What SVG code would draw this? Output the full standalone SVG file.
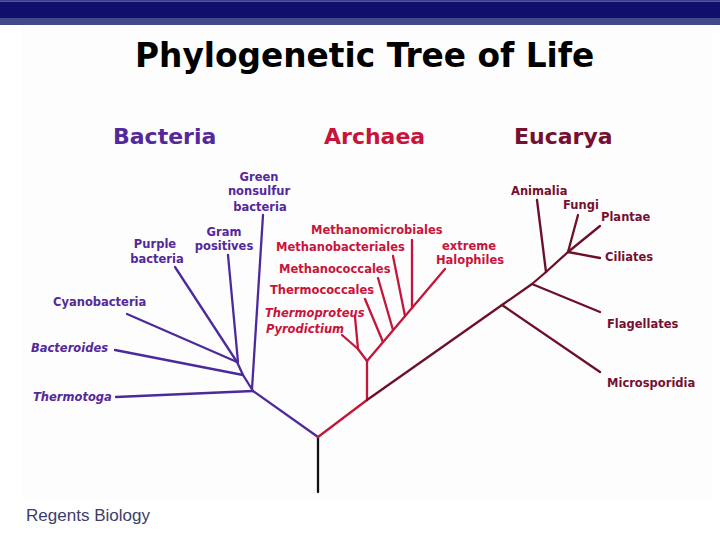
<svg xmlns="http://www.w3.org/2000/svg" width="720" height="540" viewBox="0 0 720 540">
<style>
text{font-family:"DejaVu Sans","Noto Sans",sans-serif;font-weight:bold}
.t{font-size:32.8px;fill:#000}
.h{font-size:22px}
.l{font-size:11.5px}
.i{font-style:italic}
.b{fill:#55289a}
.a{fill:#c8143a}
.e{fill:#761030}
.c{text-anchor:middle}
.lb{stroke:#4d2a9c}
.la{stroke:#c4153a}
.le{stroke:#6e0f28}
.lk{stroke:#111}
#connectors polyline,#connectors line{fill:none;stroke-width:2.3;stroke-linecap:round;stroke-linejoin:round}
</style>
<rect width="720" height="540" fill="#ffffff"/>
<rect x="0" y="0" width="720" height="1.5" fill="#3c3c8c"/>
<rect x="0" y="1.5" width="720" height="16.5" fill="#10106a"/>
<rect x="0" y="18" width="720" height="7" fill="#434a8a"/>
<rect x="22" y="25" width="690" height="475" fill="#fdfdfe"/>
<g id="title"><text class="t" x="135" y="67">Phylogenetic Tree of Life</text></g>
<g id="hdr-bacteria"><text class="h b" x="113" y="144">Bacteria</text></g>
<g id="hdr-archaea"><text class="h a" x="324" y="144">Archaea</text></g>
<g id="hdr-eucarya"><text class="h e" x="514" y="144">Eucarya</text></g>

<g id="connectors">
<line class="lk" x1="318" y1="437" x2="318" y2="492"/>
<polyline class="lb" points="318,437 253,391 243,375 237,362"/>
<line class="lb" x1="116" y1="397" x2="253" y2="391"/>
<line class="lb" x1="263" y1="215" x2="252" y2="389"/>
<line class="lb" x1="115" y1="350" x2="243" y2="375"/>
<line class="lb" x1="127" y1="314" x2="237" y2="362"/>
<line class="lb" x1="175" y1="267" x2="237" y2="362"/>
<line class="lb" x1="228" y1="255" x2="238" y2="362"/>
<polyline class="la" points="318,437 367,400 367,361 358,349"/>
<line class="la" x1="342" y1="335" x2="358" y2="349"/>
<line class="la" x1="355" y1="317" x2="358" y2="349"/>
<line class="la" x1="367" y1="361" x2="445" y2="269"/>
<line class="la" x1="365" y1="299" x2="383" y2="342"/>
<line class="la" x1="378" y1="278" x2="393" y2="330"/>
<line class="la" x1="393" y1="256" x2="405" y2="316"/>
<line class="la" x1="412" y1="240" x2="412" y2="308"/>
<polyline class="le" points="367,400 502,305 532,284 546,272 568,252"/>
<line class="le" x1="502" y1="305" x2="600" y2="372"/>
<line class="le" x1="532" y1="284" x2="600" y2="312"/>
<line class="le" x1="546" y1="272" x2="537" y2="200"/>
<line class="le" x1="568" y1="252" x2="578" y2="215"/>
<line class="le" x1="568" y1="252" x2="600" y2="226"/>
<line class="le" x1="568" y1="252" x2="600" y2="258"/>
</g>

<g id="green-nonsulfur"><text class="l b c" x="259" y="181">Green</text><text class="l b c" x="259" y="195">nonsulfur</text><text class="l b c" x="260" y="211">bacteria</text></g>
<g id="gram-positives"><text class="l b c" x="224" y="236">Gram</text><text class="l b c" x="224" y="250">positives</text></g>
<g id="purple-bacteria"><text class="l b c" x="155" y="248">Purple</text><text class="l b c" x="157" y="263">bacteria</text></g>
<g id="cyanobacteria"><text class="l b" x="53" y="306">Cyanobacteria</text></g>
<g id="bacteroides"><text class="l b i" x="31" y="352">Bacteroides</text></g>
<g id="thermotoga"><text class="l b i" x="33" y="401">Thermotoga</text></g>

<g id="methanomicrobiales"><text class="l a" x="311" y="234">Methanomicrobiales</text></g>
<g id="methanobacteriales"><text class="l a" x="276" y="251">Methanobacteriales</text></g>
<g id="extreme-halophiles"><text class="l a c" x="469" y="250">extreme</text><text class="l a c" x="470" y="264">Halophiles</text></g>
<g id="methanococcales"><text class="l a" x="279" y="273">Methanococcales</text></g>
<g id="thermococcales"><text class="l a" x="270" y="294">Thermococcales</text></g>
<g id="thermoproteus"><text class="l a i" x="265" y="317">Thermoproteus</text></g>
<g id="pyrodictium"><text class="l a i" x="266" y="333">Pyrodictium</text></g>

<g id="animalia"><text class="l e" x="511" y="195">Animalia</text></g>
<g id="fungi"><text class="l e" x="563" y="209">Fungi</text></g>
<g id="plantae"><text class="l e" x="601" y="221">Plantae</text></g>
<g id="ciliates"><text class="l e" x="605" y="261">Ciliates</text></g>
<g id="flagellates"><text class="l e" x="607" y="328">Flagellates</text></g>
<g id="microsporidia"><text class="l e" x="607" y="387">Microsporidia</text></g>

<g id="footer"><text x="26" y="521" style="font-family:'Liberation Sans',Arial,sans-serif;font-weight:normal;font-size:16px;fill:#3b3d6b" textLength="124" lengthAdjust="spacingAndGlyphs">Regents Biology</text></g>
</svg>
